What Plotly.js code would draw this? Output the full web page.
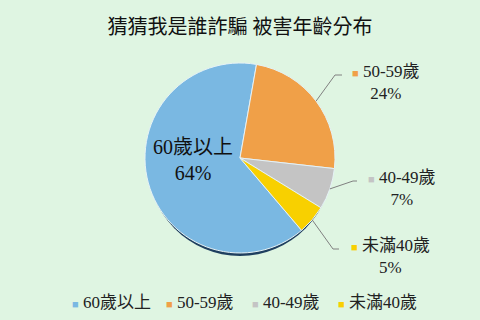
<!DOCTYPE html>
<html>
<head>
<meta charset="utf-8">
<script src="https://cdn.plot.ly/plotly-3.0.1.min.js"></script>
<style>html,body{margin:0;padding:0;background:#dff5e2;}#chart{width:480px;height:320px;}</style>
</head>
<body>
<div id="chart"></div>
<script>
// ---- data ----
var titleText = '猜猜我是誰詐騙 被害年齡分布';
var labels = ['60歲以上', '50-59歲', '40-49歲', '未滿40歲'];
var values = [64, 24, 7, 5];
var colors = ['#7ab8e2', '#f0a048', '#c4c4c4', '#f8d000'];

// ---- layout geometry (pixels) ----
var W = 480, H = 320;
var cx = 240, cy = 158, r = 95;
var startAngle = 139.6; // clockwise from 12 o'clock
function px(x, y) { return [x / W, 1 - y / H]; }

var total = values.reduce(function (a, b) { return a + b; }, 0);
function pct(v) { return Math.round(v / total * 100) + '%'; }

var fontFam = '"Liberation Serif", "Noto Sans CJK TC", serif';

// mid angles from data
var mids = [];
var acc = startAngle;
for (var i = 0; i < values.length; i++) {
  var span = values[i] / total * 360;
  mids.push(acc + span / 2);
  acc += span;
}

// label placements (pixels): [textX, textY, elbowX, elbowY, endX]
var place = {
  1: [386, 82, 335, 75, 342],
  2: [402, 188, 353, 181, 357],
  3: [390, 256, 333, 249, 339]
};
// legend item left positions (pixels)
var legendX = [70, 164, 250, 336];
var legendY = 302;

var annotations = [];
var shapes = [];
// shadow under pie
shapes.push({type: 'circle', xref: 'paper', yref: 'paper', layer: 'below',
  x0: (cx - r + 2) / W, x1: (cx + r - 2) / W, y0: 1 - (cy + r + 3) / H, y1: 1 - (cy - r + 3) / H,
  fillcolor: '#1f3f5f', line: {width: 0}});

// inside label for first slice
var p0 = px(193, 160);
annotations.push({xref: 'paper', yref: 'paper', x: p0[0], y: p0[1], xanchor: 'center', yanchor: 'middle',
  showarrow: false, text: labels[0] + '<br>' + pct(values[0]),
  font: {family: fontFam, size: 20, color: '#111'}, align: 'center'});

for (var k = 1; k < values.length; k++) {
  var pl = place[k];
  var a = mids[k] * Math.PI / 180;
  var ex = cx + r * Math.sin(a), ey = cy - r * Math.cos(a);
  var e = px(ex, ey), b = px(pl[2], pl[3]), f = px(pl[4], pl[3]);
  shapes.push({type: 'path', xref: 'paper', yref: 'paper',
    path: 'M' + e[0] + ',' + e[1] + 'L' + b[0] + ',' + b[1] + 'L' + f[0] + ',' + f[1],
    line: {color: '#808080', width: 1}});
  var t = px(pl[0], pl[1]);
  annotations.push({xref: 'paper', yref: 'paper', x: t[0], y: t[1], xanchor: 'center', yanchor: 'middle',
    showarrow: false, align: 'center',
    text: '<span style="font-size:11px;color:' + colors[k] + '">■</span> ' + labels[k] + '<br>' + pct(values[k]),
    font: {family: fontFam, size: 17, color: '#222'}});
}

// legend drawn as text items
for (var j = 0; j < labels.length; j++) {
  var lp = px(legendX[j], legendY);
  annotations.push({xref: 'paper', yref: 'paper', x: lp[0], y: lp[1], xanchor: 'left', yanchor: 'middle',
    showarrow: false,
    text: '<span style="font-size:11px;color:' + colors[j] + '">■</span> ' + labels[j],
    font: {family: fontFam, size: 17, color: '#222'}});
}

var data = [{
  type: 'pie',
  labels: labels,
  values: values,
  sort: false,
  direction: 'clockwise',
  rotation: startAngle,
  textinfo: 'none',
  hoverinfo: 'label+percent',
  showlegend: false,
  marker: {colors: colors, line: {color: '#e6f2f6', width: 1}},
  domain: {x: [(cx - r) / W, (cx + r) / W], y: [1 - (cy + r) / H, 1 - (cy - r) / H]}
}];

var layout = {
  width: W, height: H,
  margin: {l: 0, r: 0, t: 0, b: 0},
  paper_bgcolor: '#dff5e2',
  plot_bgcolor: '#dff5e2',
  title: {text: titleText, x: 0.5, xanchor: 'center', y: 1 - 27 / H, yanchor: 'middle',
    font: {family: fontFam, size: 20, color: '#111'}},
  showlegend: false,
  annotations: annotations,
  shapes: shapes
};

Plotly.newPlot('chart', data, layout, {displayModeBar: false, staticPlot: true});
</script>
</body>
</html>
